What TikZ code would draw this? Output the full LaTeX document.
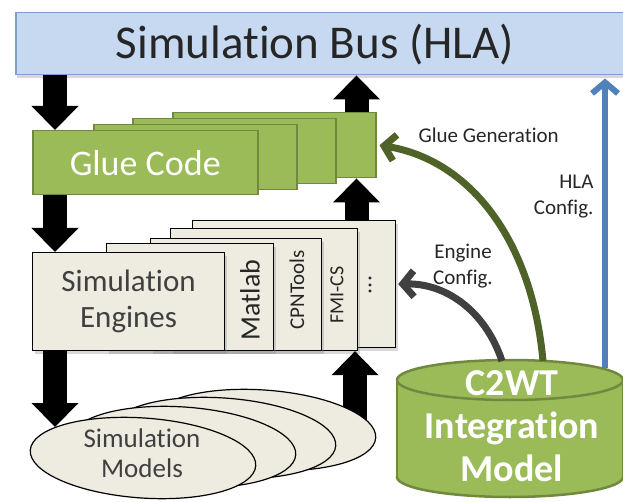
\documentclass[tikz,border=0pt]{standalone}
\usepackage{fontspec}
\setmainfont{Carlito}[Ligatures=NoCommon]
\usetikzlibrary{arrows.meta,shapes.geometric,shadows}

\definecolor{busblue}{HTML}{C6D9F1}
\definecolor{busline}{HTML}{7F9FCB}
\definecolor{gluegreen}{HTML}{9BBB59}
\definecolor{glueline}{HTML}{71893F}
\definecolor{engfill}{HTML}{EEECE1}
\definecolor{gengreen}{HTML}{4F6228}
\definecolor{hlablue}{HTML}{4F81BD}
\definecolor{enggray}{HTML}{404040}
\definecolor{textgray}{HTML}{262626}

\begin{document}
\begin{tikzpicture}[x=1pt, y=-1pt,
  gluebox/.style={draw=glueline, line width=1.5pt, fill=gluegreen, anchor=north west, inner sep=0pt},
  engbox/.style={draw=black, line width=1.2pt, fill=engfill, anchor=north west, inner sep=0pt,
    drop shadow={shadow xshift=2pt, shadow yshift=-3pt, opacity=0.3}},
  modelell/.style={ellipse, draw=black, line width=1.2pt, fill=engfill, minimum width=226pt,
    minimum height=80pt, rotate=-4, inner sep=0pt},
  blockarrow/.style={line width=24pt, -{Triangle[width=47pt, length=24pt, line width=0pt]}},
  cfgarrow/.style={line width=7pt, -{Straight Barb[length=11pt, width=26pt]}},
  small/.style={font=\fontsize{21}{26}\selectfont, text=textgray, align=center}
]
	\useasboundingbox (0,0) rectangle (623,502);
	\clip (0,0) rectangle (623,502);
	\fill[white] (0,0) rectangle (623,502);

	% bus
	\node[draw=busline, line width=1.5pt, fill=busblue, anchor=north west, minimum width=630pt,
	      minimum height=62pt, inner sep=0pt,
	      drop shadow={shadow xshift=1pt, shadow yshift=-3pt, opacity=0.3}] (bus) at (15,12) {};
	\node[text=textgray, font=\fontsize{47}{50}\selectfont] (bustext) at (315,45) {Simulation Bus (HLA)};

	% glue code
	\node[gluebox, minimum width=203pt, minimum height=65pt] (glue4) at (172,112) {};
	\node[gluebox, minimum width=203pt, minimum height=65pt] (glue3) at (132,118) {};
	\node[gluebox, minimum width=203pt, minimum height=65pt] (glue2) at (93,124) {};
	\node[gluebox, minimum width=225pt, minimum height=64pt, text=white,
	      font=\fontsize{36}{40}\selectfont] (glue1) at (32,130) {Glue Code};

	% engines
	\node[engbox, minimum width=203pt, minimum height=127pt] (eng5) at (192,220) {};
	\node[engbox, minimum width=187pt, minimum height=122pt] (eng4) at (170,228) {};
	\node[engbox, minimum width=171pt, minimum height=112pt] (eng3) at (150,238) {};
	\node[engbox, minimum width=167pt, minimum height=107pt] (eng2) at (106,243) {};
	\node[engbox, minimum width=192pt, minimum height=98pt, align=center, text=enggray,
	      font=\fontsize{31}{36}\selectfont] (eng1) at (32,252) {Simulation\\Engines};
	\node[rotate=90, text=textgray, font=\fontsize{28}{30}\selectfont] (matlab) at (250,300) {Matlab};
	\node[rotate=90, text=textgray, font=\fontsize{21}{24}\selectfont] (cpn) at (297,290) {CPNTools};
	\node[rotate=90, text=textgray, font=\fontsize{20}{24}\selectfont] (fmi) at (337,295) {FMI-CS};
	\node[rotate=90, text=textgray, font=\fontsize{24}{26}\selectfont] (more) at (370,285) {...};

	% black data arrows
	\coordinate (modeltop) at (55,427);
	\coordinate (modelsrc) at (355,440);
	\draw[blockarrow] ([xshift=23pt]bus.south -| glue1.north west) -- ([xshift=23pt]glue1.north west);
	\draw[blockarrow] ([xshift=23pt]glue1.south west) -- ([xshift=23pt]eng1.north west);
	\draw[blockarrow] ([xshift=23pt]eng1.south west) -- (modeltop);
	\draw[blockarrow] ([xshift=-20pt]glue4.north east) -- ([xshift=-20pt]bus.south -| glue4.north east);
	\draw[blockarrow] ([xshift=-20pt]eng5.north -| glue4.south east) -- ([xshift=-20pt]glue4.south east);
	\draw[blockarrow] (modelsrc) -- (modelsrc |- eng1.south);

	% models
	\node[modelell] (model4) at (263,430) {};
	\node[modelell] (model3) at (223,438) {};
	\node[modelell] (model2) at (183,447) {};
	\node[modelell] (model1) at (143,458) {};
	\node[align=center, text=enggray, font=\fontsize{27}{30}\selectfont] (modeltext) at (142,453) {Simulation\\Models};

	% integration model
	\filldraw[fill=gluegreen, draw=glueline, line width=2.5pt] (510,477) ellipse [x radius=113, y radius=20];
	\fill[gluegreen] (397,380) rectangle (623,477);
	\draw[glueline, line width=2.5pt] (397,380) -- (397,477) (623,380) -- (623,477);
	\filldraw[fill=gluegreen, draw=glueline, line width=2.5pt] (510,380) ellipse [x radius=113, y radius=20];
	\node[align=center, text=white, font=\bfseries\fontsize{38}{43}\selectfont] (c2wt) at (512,426) {C2WT\\Integration\\Model};

	% configuration arrows
	\coordinate (gluesrc) at (543,361);
	\coordinate (engsrc) at (502,361);
	\coordinate (hlasrc) at (605,368);
	\draw[cfgarrow, gengreen] (gluesrc) .. controls (532,240) and (470,160) .. ([xshift=3pt]glue4.east);
	\draw[cfgarrow, enggray] (engsrc) .. controls (485,310) and (445,283) .. ([xshift=2pt]eng5.east);
	\draw[cfgarrow, hlablue, line width=6pt] (hlasrc) -- ([yshift=-3pt]hlasrc |- bus.south);

	\node[small, anchor=west] (gluegen) at (415,135) {Glue Generation};
	\node[small, anchor=east, align=right] (hlacfg) at (597,197) {HLA\\Config.};
	\node[small] (engcfg) at (463,266) {Engine\\Config.};
\end{tikzpicture}
\end{document}
